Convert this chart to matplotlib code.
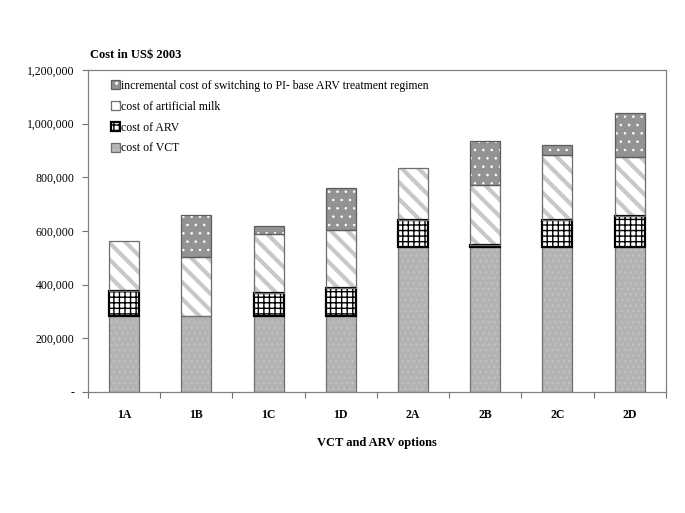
import numpy as np
import matplotlib
matplotlib.use('Agg')
import matplotlib.pyplot as plt
from matplotlib.patches import Patch
from matplotlib.legend_handler import HandlerTuple
from matplotlib.ticker import FuncFormatter, FixedLocator

plt.rcParams['font.family'] = ['Liberation Serif', 'DejaVu Serif']

# data (US$ 2003)
options = ['1A', '1B', '1C', '1D', '2A', '2B', '2C', '2D']
vct = [283000, 283000, 283000, 283000, 541000, 541000, 541000, 541000]
arv = [92000, 0, 85000, 106000, 99000, 5000, 100000, 115000]
milk = [187000, 219000, 220000, 215000, 195000, 224000, 241000, 218000]
incr = [0, 158000, 32000, 158000, 0, 167000, 37000, 166000]

names = ['cost of VCT', 'cost of ARV', 'cost of artificial milk',
         'incremental cost of switching to PI- base ARV treatment regimen']
series = [vct, arv, milk, incr]
# fill, hatch, hatch colour, hatch width, outline colour, outline width
styles = [
    ('#b3b3b3', '...', '#c4c4c4', 0.8, '#6e6e6e', 0.9),
    ('white', '+++', 'black', 1.0, 'black', 1.6),
    ('white', '\\\\', '#c8c8c8', 3.0, '#6e6e6e', 0.9),
    ('#939393', '..', 'white', 0.6, '#5e5e5e', 0.9),
]

fig = plt.figure(figsize=(6.85, 5.13), dpi=100)
ax = fig.add_axes([0.1285, 0.2359, 0.8435, 0.6276])

x = np.arange(len(options))
w = 0.415
bottom = np.zeros(len(options))
handles = []
for vals, (fc, hatch, hc, hlw, ec, lw) in zip(series, styles):
    vals = np.array(vals, dtype=float)
    with plt.rc_context({'hatch.linewidth': hlw}):
        ax.bar(x, vals, w, bottom=bottom, color=fc, edgecolor=hc,
               hatch=hatch, linewidth=0, zorder=2)
        h1 = Patch(facecolor=fc, edgecolor=hc, hatch=hatch, linewidth=0)
    mask = vals > 0
    ax.bar(x[mask], vals[mask], w, bottom=bottom[mask], fill=False,
           edgecolor=ec, linewidth=lw, zorder=3)
    h2 = Patch(fill=False, edgecolor=ec, linewidth=lw)
    handles.append((h1, h2))
    bottom += vals

ax.set_xlim(-0.5, len(options) - 0.5)
ax.set_ylim(0, 1200000)
ax.set_yticks(np.arange(0, 1200001, 200000))
ax.yaxis.set_major_formatter(FuncFormatter(lambda v, p: '-' if v == 0 else f'{int(v):,}'))
ax.tick_params(axis='y', labelsize=8.5, length=4, color='#707070', pad=6)

ax.xaxis.set_major_locator(FixedLocator(np.arange(-0.5, len(options), 1.0)))
ax.set_xticks(x, minor=True)
ax.set_xticklabels(options, minor=True, fontweight='bold', fontsize=8.5)
ax.set_xticklabels([], minor=False)
ax.tick_params(axis='x', which='major', length=4, color='#707070')
ax.tick_params(axis='x', which='minor', length=0, pad=12)

for s in ax.spines.values():
    s.set_color('#808080')
    s.set_linewidth(0.9)

ax.set_xlabel('VCT and ARV options', fontweight='bold', fontsize=9, labelpad=12)
fig.text(0.131, 0.882, 'Cost in US\\$ 2003', fontweight='bold', fontsize=9,
         ha='left', va='bottom')

ax.legend(handles[::-1], names[::-1], handler_map={tuple: HandlerTuple(ndivide=1)},
          loc='upper left', bbox_to_anchor=(0.025, 0.995), frameon=False,
          fontsize=8.5, handlelength=0.75, handleheight=0.75, handletextpad=0.15,
          labelspacing=0.75, borderaxespad=0.3)

fig.savefig('out.png', dpi=100)
